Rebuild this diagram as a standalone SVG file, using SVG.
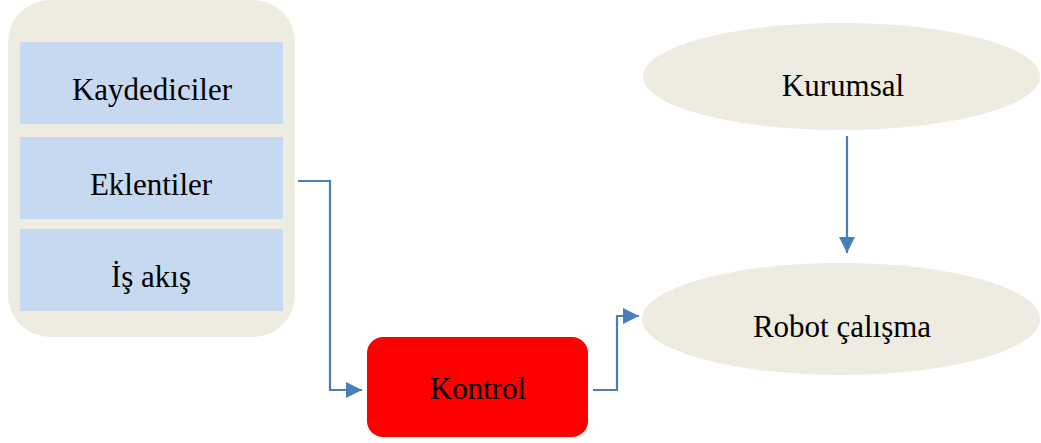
<svg xmlns="http://www.w3.org/2000/svg" width="1041" height="443" viewBox="0 0 1041 443">
  <style>
    .lbl { font-family: "Liberation Serif", "Times New Roman", serif; font-size: 31px; fill: #000; text-anchor: middle; }
    .panel { fill: #EEECE1; }
    .item { fill: #C6D9F1; }
    .conn { fill: none; stroke: #4A7EBB; stroke-width: 2.2; }
  </style>
  <defs>
    <marker id="head" viewBox="0 0 16 16" refX="16" refY="8" markerWidth="16" markerHeight="16" markerUnits="userSpaceOnUse" orient="auto">
      <path d="M0,0 L16,8 L0,16 Z" fill="#4A7EBB"/>
    </marker>
  </defs>

  <!-- component stack -->
  <g id="components">
    <rect class="panel" x="8" y="0" width="287" height="337" rx="42" ry="42"/>
    <g id="kaydediciler">
      <rect class="item" x="20" y="42" width="263" height="82"/>
      <text class="lbl" x="152" y="100">Kaydediciler</text>
    </g>
    <g id="eklentiler">
      <rect class="item" x="20" y="137" width="263" height="82"/>
      <text class="lbl" x="151" y="195">Eklentiler</text>
    </g>
    <g id="is-akis">
      <rect class="item" x="20" y="229" width="263" height="82"/>
      <text class="lbl" x="151" y="287">İş akış</text>
    </g>
  </g>

  <g id="kontrol">
    <rect x="367" y="337" width="221" height="100" rx="16" ry="16" fill="#FF0000"/>
    <text class="lbl" x="478" y="399">Kontrol</text>
  </g>

  <g id="kurumsal">
    <ellipse class="panel" cx="841.5" cy="76.5" rx="198.5" ry="53.5"/>
    <text class="lbl" x="843" y="96">Kurumsal</text>
  </g>

  <g id="robot">
    <ellipse class="panel" cx="841" cy="319" rx="199" ry="56"/>
    <text class="lbl" x="842" y="337">Robot çalışma</text>
  </g>

  <!-- connectors -->
  <g id="connectors">
    <polyline class="conn" points="298,181 330,181 330,390 362,390" marker-end="url(#head)"/>
    <polyline class="conn" points="593,390 617,390 617,316 639,316" marker-end="url(#head)"/>
    <line class="conn" x1="847" y1="136" x2="847" y2="253" marker-end="url(#head)"/>
  </g>
</svg>
